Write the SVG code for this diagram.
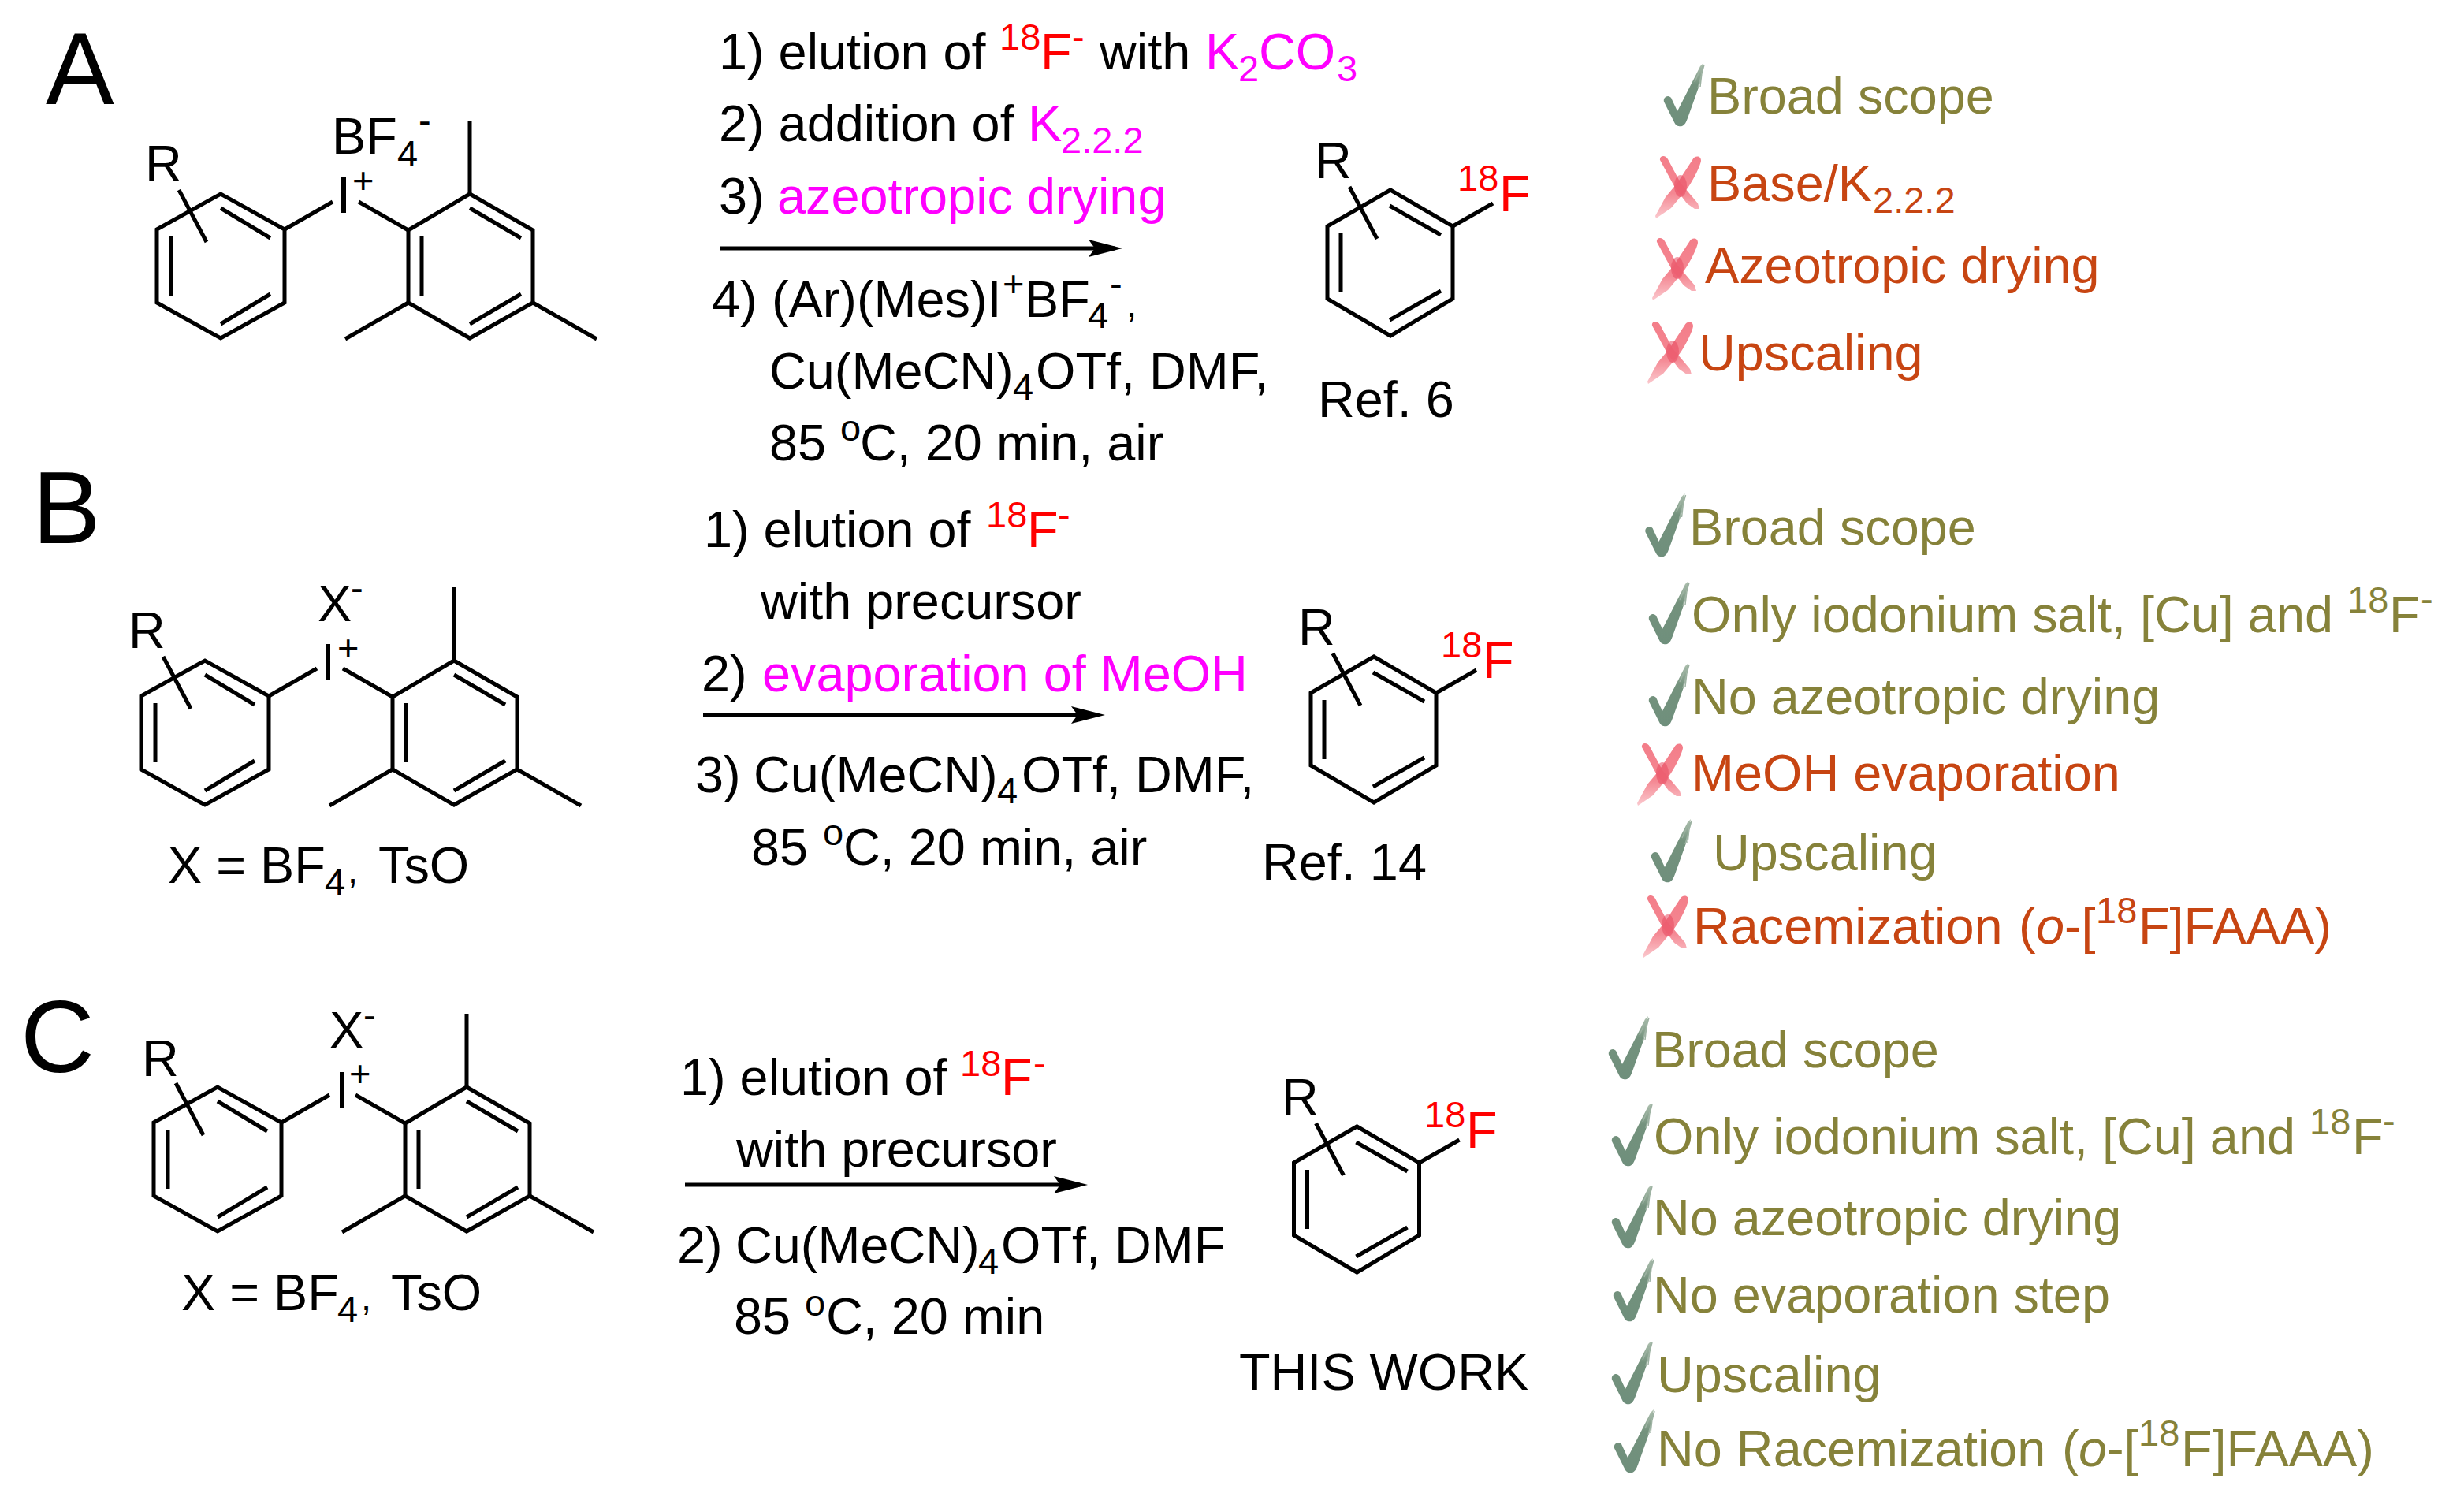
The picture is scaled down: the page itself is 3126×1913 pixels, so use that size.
<svg xmlns="http://www.w3.org/2000/svg" xmlns:xlink="http://www.w3.org/1999/xlink" width="3126" height="1913" viewBox="0 0 3126 1913">
<style>
text{font-family:"Liberation Sans",Arial,sans-serif;font-size:64.8px;fill:#000;transform:translate(0,2px)}
.lab{font-size:130px}
.s{font-size:47px}
.i{font-style:italic}
.r{fill:#f00}
.m{fill:#f0f}
.ok{fill:#86823a}
.no{fill:#c74512}
.bond{fill:none;stroke:#000;stroke-width:5}
.shaft{fill:none;stroke:#000;stroke-width:5}
</style>
<defs>
<g id="salt" class="bond">
<path d="M199 291L280 246L361 291V384L280 429L199 384Z"/>
<path d="M280 264L343 302M217 300V375M280 411L343 373M227 241L262 307M361 291L422 256M455 256L518 292"/>
<path d="M518 292L596 246L676 292V384L596 429L518 384Z"/>
<path d="M596 264L661 302M535 300V375M596 411L661 373M596 246V153M518 384L438 430M676 384L757 430"/>
</g>
<g id="prod" class="bond">
<path d="M1684 287L1764 241L1843 287V379L1764 426L1684 379Z"/>
<path d="M1763 261L1828 298M1701 296V371M1763 406L1828 369M1843 287L1894 258M1712 237L1747 303"/>
</g>
<linearGradient id="gc" gradientUnits="userSpaceOnUse" x1="0" y1="79" x2="0" y2="160">
<stop offset="0" stop-color="#b4c5b4"/><stop offset=".35" stop-color="#74927d"/><stop offset="1" stop-color="#6f8f7c"/>
</linearGradient>
<linearGradient id="gx" gradientUnits="userSpaceOnUse" x1="0" y1="198" x2="0" y2="277">
<stop offset="0" stop-color="#f26f7c"/><stop offset=".6" stop-color="#f37a86"/><stop offset="1" stop-color="#fac3c9"/>
</linearGradient>
<g id="check">
<path fill="url(#gc)" d="M2116 122C2113 122 2110 125 2111 129L2124 155C2126 160 2131 161 2134 160C2138 158 2139 155 2141 150L2156 108L2161 80L2157 84L2151 96L2128 141L2121 126C2120 123 2118 122 2116 122Z"/>
<path fill="none" stroke="#9db2a2" stroke-width="1.5" d="M2154 112L2162 82M2157 110L2160 84M2150 104L2158 86"/>
</g>
<g id="cross" fill="url(#gx)">
<path opacity=".9" d="M2147 203C2150 197 2158 197 2158 204C2157 210 2150 226 2140 240L2120 264L2101 277L2100 274L2113 250L2128 232Z"/>
<path opacity=".9" d="M2106 203C2105 197 2113 196 2116 202L2132 232L2154 258L2156 265L2150 265L2140 258L2125 238Z"/>
<ellipse cx="2132" cy="236" rx="8" ry="14" fill="#e84a60" opacity=".55"/>
</g>
<marker id="head" markerUnits="userSpaceOnUse" markerWidth="43" markerHeight="22" refX="33" refY="11" orient="auto">
<path d="M0 0L43 11L0 22L8 11Z" fill="#000"/>
</marker>
</defs>

<g id="label-a"><text class="lab" x="58" y="130">A</text></g>
<g id="label-b"><text class="lab" x="41" y="687">B</text></g>
<g id="label-c"><text class="lab" x="26" y="1358">C</text></g>

<g id="substrate-a">
<use xlink:href="#salt" href="#salt"/>
<text x="184" y="228">R</text>
<text x="427" y="268">I</text>
<text class="s" x="447" y="243">+</text>
<text x="421" y="193">BF</text>
<text class="s" x="504" y="209">4</text>
<text class="s" x="531" y="167">-</text>
</g>
<g id="substrate-b">
<use xlink:href="#salt" href="#salt" transform="translate(-20 592)"/>
<text x="163" y="820">R</text>
<text x="407" y="860">I</text>
<text class="s" x="428" y="836">+</text>
<text x="403" y="786">X</text>
<text class="s" x="445" y="760">-</text>
<text y="1118"><tspan x="213">X = BF</tspan><tspan class="s" x="412" y="1133">4</tspan><tspan class="s" x="441" y="1118">,</tspan><tspan x="480">TsO</tspan></text>
</g>
<g id="substrate-c">
<use xlink:href="#salt" href="#salt" transform="translate(-4 1133)"/>
<text x="180" y="1363">R</text>
<text x="425" y="1403">I</text>
<text class="s" x="443" y="1376">+</text>
<text x="418" y="1327">X</text>
<text class="s" x="461" y="1302">-</text>
<text y="1660"><tspan x="230">X = BF</tspan><tspan class="s" x="428" y="1675">4</tspan><tspan class="s" x="458" y="1660">,</tspan><tspan x="496">TsO</tspan></text>
</g>

<g id="connectors">
<path class="shaft" marker-end="url(#head)" d="M913 315H1414"/>
<path class="shaft" marker-end="url(#head)" d="M892 907H1392"/>
<path class="shaft" marker-end="url(#head)" d="M869 1503H1370"/>
</g>

<g id="conditions-a">
<text y="86"><tspan x="912">1) elution of</tspan><tspan class="s r" x="1268" y="61">18</tspan><tspan class="r" x="1320" y="86">F</tspan><tspan class="s r" x="1360" y="61">-</tspan><tspan x="1395" y="86">with</tspan><tspan class="m" x="1529">K</tspan><tspan class="s m" x="1571" y="101">2</tspan><tspan class="m" x="1597" y="86">CO</tspan><tspan class="s m" x="1696" y="101">3</tspan></text>
<text y="177"><tspan x="912">2) addition of</tspan><tspan class="m" x="1304">K</tspan><tspan class="s m" x="1346" y="192">2.2.2</tspan></text>
<text y="269"><tspan x="912">3) </tspan><tspan class="m" x="986">azeotropic drying</tspan></text>
<text y="400"><tspan x="903">4)</tspan><tspan x="979">(Ar)(Mes)I</tspan><tspan class="s" x="1272" y="374">+</tspan><tspan x="1300" y="400">BF</tspan><tspan class="s" x="1380" y="414">4</tspan><tspan class="s" x="1408" y="374">-</tspan><tspan class="s" x="1429" y="400">,</tspan></text>
<text y="491"><tspan x="976">Cu(MeCN)</tspan><tspan class="s" x="1285" y="505">4</tspan><tspan x="1314" y="491">OTf, DMF,</tspan></text>
<text y="582"><tspan x="976">85</tspan><tspan class="s" x="1066" y="557">o</tspan><tspan x="1091" y="582">C, 20 min, air</tspan></text>
</g>
<g id="conditions-b">
<text y="692"><tspan x="893">1) elution of</tspan><tspan class="s r" x="1251" y="667">18</tspan><tspan class="r" x="1303" y="692">F</tspan><tspan class="s r" x="1342" y="667">-</tspan></text>
<text x="965" y="783">with precursor</text>
<text y="875"><tspan x="890">2)</tspan><tspan class="m" x="967">evaporation of MeOH</tspan></text>
<text y="1003"><tspan x="882">3)</tspan><tspan x="956">Cu(MeCN)</tspan><tspan class="s" x="1265" y="1017">4</tspan><tspan x="1296" y="1003">OTf, DMF,</tspan></text>
<text y="1095"><tspan x="953">85</tspan><tspan class="s" x="1044" y="1070">o</tspan><tspan x="1070" y="1095">C, 20 min, air</tspan></text>
</g>
<g id="conditions-c">
<text y="1387"><tspan x="863">1) elution of</tspan><tspan class="s r" x="1218" y="1363">18</tspan><tspan class="r" x="1270" y="1387">F</tspan><tspan class="s r" x="1311" y="1363">-</tspan></text>
<text x="934" y="1478">with precursor</text>
<text y="1600"><tspan x="859">2)</tspan><tspan x="933">Cu(MeCN)</tspan><tspan class="s" x="1241" y="1614">4</tspan><tspan x="1270" y="1600">OTf, DMF</tspan></text>
<text y="1690"><tspan x="931">85</tspan><tspan class="s" x="1021" y="1667">o</tspan><tspan x="1048" y="1690">C, 20 min</tspan></text>
</g>

<g id="product-a">
<use xlink:href="#prod" href="#prod"/>
<text x="1668" y="224">R</text>
<text class="s r" x="1849" y="240">18</text>
<text class="r" x="1902" y="266">F</text>
<text x="1672" y="527">Ref. 6</text>
</g>
<g id="product-b">
<use xlink:href="#prod" href="#prod" transform="translate(-21 592)"/>
<text x="1647" y="816">R</text>
<text class="s r" x="1828" y="832">18</text>
<text class="r" x="1881" y="858">F</text>
<text x="1601" y="1114">Ref. 14</text>
</g>
<g id="product-c">
<use xlink:href="#prod" href="#prod" transform="translate(-42.5 1188)"/>
<text x="1626" y="1412">R</text>
<text class="s r" x="1807" y="1428">18</text>
<text class="r" x="1860" y="1454">F</text>
<text x="1572" y="1761">THIS WORK</text>
</g>

<g id="notes-a">
<use xlink:href="#check" href="#check"/>
<text class="ok" x="2166" y="142">Broad scope</text>
<use xlink:href="#cross" href="#cross"/>
<text class="no" y="253"><tspan x="2166">Base/K</tspan><tspan class="s" x="2376" y="268">2.2.2</tspan></text>
<use xlink:href="#cross" href="#cross" transform="translate(-4 104)"/>
<text class="no" x="2163" y="357">Azeotropic drying</text>
<use xlink:href="#cross" href="#cross" transform="translate(-10 210)"/>
<text class="no" x="2155" y="468">Upscaling</text>
</g>
<g id="notes-b">
<use xlink:href="#check" href="#check" transform="translate(-23.5 546)"/>
<text class="ok" x="2143" y="689">Broad scope</text>
<use xlink:href="#check" href="#check" transform="translate(-19 657)"/>
<text class="ok" y="800"><tspan x="2146">Only iodonium salt, [Cu] and</tspan><tspan class="s" x="2978" y="775">18</tspan><tspan x="3031" y="800">F</tspan><tspan class="s" x="3071" y="774">-</tspan></text>
<use xlink:href="#check" href="#check" transform="translate(-19 761)"/>
<text class="ok" x="2146" y="904">No azeotropic drying</text>
<use xlink:href="#cross" href="#cross" transform="translate(-23 745)"/>
<text class="no" x="2146" y="1001">MeOH evaporation</text>
<use xlink:href="#check" href="#check" transform="translate(-16 959)"/>
<text class="ok" x="2173" y="1102">Upscaling</text>
<use xlink:href="#cross" href="#cross" transform="translate(-16 938)"/>
<text class="no" y="1195"><tspan x="2148">Racemization</tspan><tspan x="2561">(</tspan><tspan class="i" x="2583">o</tspan><tspan x="2619">-[</tspan><tspan class="s" x="2659" y="1169">18</tspan><tspan x="2713" y="1195">F]FAAA)</tspan></text>
</g>
<g id="notes-c">
<use xlink:href="#check" href="#check" transform="translate(-70 1209)"/>
<text class="ok" x="2096" y="1352">Broad scope</text>
<use xlink:href="#check" href="#check" transform="translate(-66 1319)"/>
<text class="ok" y="1462"><tspan x="2098">Only iodonium salt, [Cu] and</tspan><tspan class="s" x="2930" y="1437">18</tspan><tspan x="2984" y="1462">F</tspan><tspan class="s" x="3023" y="1436">-</tspan></text>
<use xlink:href="#check" href="#check" transform="translate(-66 1423)"/>
<text class="ok" x="2097" y="1565">No azeotropic drying</text>
<use xlink:href="#check" href="#check" transform="translate(-64 1516)"/>
<text class="ok" x="2097" y="1663">No evaporation step</text>
<use xlink:href="#check" href="#check" transform="translate(-66 1621)"/>
<text class="ok" x="2102" y="1764">Upscaling</text>
<use xlink:href="#check" href="#check" transform="translate(-63 1708)"/>
<text class="ok" y="1858"><tspan x="2102">No Racemization</tspan><tspan x="2616">(</tspan><tspan class="i" x="2637">o</tspan><tspan x="2673">-[</tspan><tspan class="s" x="2713" y="1832">18</tspan><tspan x="2767" y="1858">F]FAAA)</tspan></text>
</g>
</svg>
